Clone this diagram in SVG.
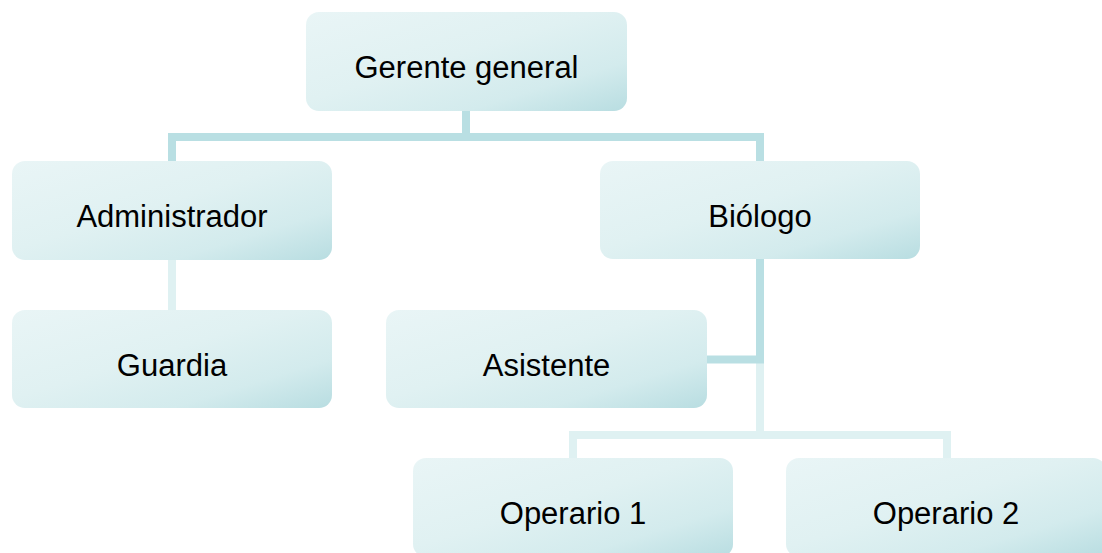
<svg xmlns="http://www.w3.org/2000/svg" width="1102" height="553" viewBox="0 0 1102 553">
  <defs>
    <linearGradient id="boxFill" x1="0" y1="0" x2="1" y2="1">
      <stop offset="0" stop-color="#e9f5f6"/>
      <stop offset="0.45" stop-color="#e0f1f2"/>
      <stop offset="0.75" stop-color="#d3ebed"/>
      <stop offset="1" stop-color="#b8dde1"/>
    </linearGradient>
  </defs>
  <style>
    .box { fill: url(#boxFill); }
    .lbl { font-family: "Liberation Sans", Arial, sans-serif; font-size: 31px; fill: #000; text-anchor: middle; }
    .dark { fill: none; stroke: #b9dfe3; stroke-width: 8; stroke-linejoin: miter; stroke-linecap: butt; }
    .light { fill: none; stroke: #dff1f2; stroke-width: 8; stroke-linejoin: miter; stroke-linecap: butt; }
  </style>
  <rect width="1102" height="553" fill="#ffffff"/>
  <g id="connectors">
    <path class="light" d="M172,260 V310"/>
    <path class="light" d="M760,363 V435 M573,458 V435 H947 V458"/>
    <path class="dark" d="M466,111 V137 M172,161 V137 H760 V161"/>
    <path class="dark" d="M760,259 V359.5 H707"/>
  </g>
  <g id="gerente">
    <rect class="box" x="306" y="12" width="321" height="99" rx="13"/>
    <text class="lbl" x="466.5" y="78">Gerente general</text>
  </g>
  <g id="administrador">
    <rect class="box" x="12" y="161" width="320" height="99" rx="13"/>
    <text class="lbl" x="172" y="227">Administrador</text>
  </g>
  <g id="biologo">
    <rect class="box" x="600" y="161" width="320" height="98" rx="13"/>
    <text class="lbl" x="760" y="227">Biólogo</text>
  </g>
  <g id="guardia">
    <rect class="box" x="12" y="310" width="320" height="98" rx="13"/>
    <text class="lbl" x="172" y="376">Guardia</text>
  </g>
  <g id="asistente">
    <rect class="box" x="386" y="310" width="321" height="98" rx="13"/>
    <text class="lbl" x="546.5" y="376">Asistente</text>
  </g>
  <g id="operario1">
    <rect class="box" x="413" y="458" width="320" height="99" rx="13"/>
    <text class="lbl" x="573" y="524">Operario 1</text>
  </g>
  <g id="operario2">
    <rect class="box" x="786" y="458" width="320" height="99" rx="13"/>
    <text class="lbl" x="946" y="524">Operario 2</text>
  </g>
</svg>
